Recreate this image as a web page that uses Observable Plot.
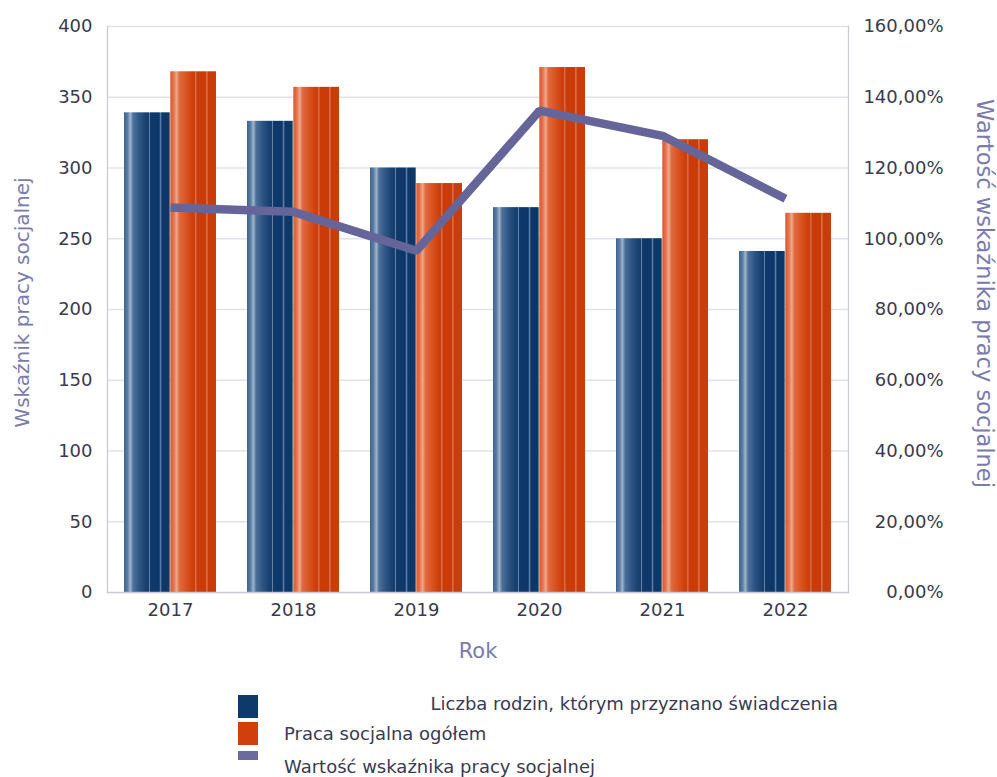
<!DOCTYPE html>
<html><head><meta charset="utf-8">
<script src="https://cdn.jsdelivr.net/npm/d3@7"></script>
<script src="https://cdn.jsdelivr.net/npm/@observablehq/plot@0.6"></script>
<style>
body{margin:0;background:#fff;font-family:"DejaVu Sans",sans-serif;}
#wrap{position:relative;width:997px;height:777px;overflow:hidden;}
.sw{position:absolute;width:20px;}
.lt{position:absolute;font-size:18px;line-height:20px;color:#3a3a52;white-space:nowrap;}
</style></head><body>
<div id="wrap"><div id="chart"></div>
<div class="sw" style="left:238px;top:695px;height:23px;background:#0d3a6b"></div>
<div class="lt" style="right:159px;top:694px;" id="l1"></div>
<div class="sw" style="left:238px;top:722px;height:23px;background:#d13f0c"></div>
<div class="lt" style="left:284px;top:724px;" id="l2"></div>
<div class="sw" style="left:238px;top:751px;height:9px;background:#6a6a9e"></div>
<div class="lt" style="left:284px;top:757px;" id="l3"></div>
</div>
<script>
const years = ["2017","2018","2019","2020","2021","2022"];
const families = [339, 333, 300, 272, 250, 241];
const socialWork = [368, 357, 289, 371, 320, 268];
const indicatorPct = [108.8, 107.6, 96.6, 136.2, 129.1, 111.3];
const leftTicks = [0, 50, 100, 150, 200, 250, 300, 350, 400];
const pctTicks = [0, 20, 40, 60, 80, 100, 120, 140, 160];
const seriesNames = ["Liczba rodzin, którym przyznano świadczenia", "Praca socjalna ogółem", "Wartość wskaźnika pracy socjalnej"];
const leftTitle = "Wskaźnik pracy socjalnej";
const rightTitle = "Wartość wskaźnika pracy socjalnej";
const xTitle = "Rok";

const W = 997, H = 680, mL = 107, mR = 149, mT = 26, mB = 88;
const pctToLeft = 400 / 160;
const rows = years.map((y, i) => ({year: y, fam: families[i], soc: socialWork[i], pct: indicatorPct[i] * pctToLeft}));
const step = (W - mL - mR) / years.length;
const half = step * 0.75 / 2;
const fmtPct = d => (d / pctToLeft).toFixed(2).replace(".", ",") + "%";

const chart = Plot.plot({
  width: W, height: H, marginLeft: mL, marginRight: mR, marginTop: mT, marginBottom: mB,
  style: {fontFamily: "DejaVu Sans, sans-serif", fontSize: "18px", color: "#3a3a4e", background: "#fff"},
  x: {domain: years, paddingInner: 0.25, paddingOuter: 0.125},
  y: {domain: [0, 400]},
  marks: [
    Plot.ruleY(leftTicks.slice(1), {stroke: "#e2e2ea", strokeWidth: 1.3}),
    Plot.barY(rows, {x: "year", y: "fam", fill: "url(#gBlue)", insetRight: half}),
    Plot.barY(rows, {x: "year", y: "soc", fill: "url(#gOrange)", insetLeft: half}),
    Plot.line(rows, {x: "year", y: "pct", stroke: "#65659a", strokeWidth: 8.5, strokeLinejoin: "miter", strokeLinecap: "butt"}),
    Plot.frame({anchor: "left", stroke: "#c9c9da", strokeWidth: 1.3}),
    Plot.frame({anchor: "right", stroke: "#c9c9da", strokeWidth: 1.3}),
    Plot.frame({anchor: "bottom", stroke: "#c9c9da", strokeWidth: 1.3}),
    Plot.axisY({anchor: "left", ticks: leftTicks, tickSize: 0, tickPadding: 15, label: null, fontSize: 18}),
    Plot.axisY({anchor: "right", ticks: pctTicks.map(p => p * pctToLeft), tickFormat: fmtPct, tickSize: 0, tickPadding: 95, textAnchor: "end", label: null, fontSize: 18}),
    Plot.axisX({tickSize: 0, tickPadding: 11, label: null, fontSize: 18}),
    Plot.text([leftTitle], {frameAnchor: "left", textAnchor: "middle", dx: -85, dy: -7, rotate: -90, fill: "#7b7bab", fontSize: 20}),
    Plot.text([rightTitle], {frameAnchor: "right", textAnchor: "middle", dx: 136, dy: -16, rotate: 90, fill: "#7b7bab", fontSize: 22.5}),
    Plot.text([xTitle], {frameAnchor: "bottom", dy: 65, fill: "#7b7bab", fontSize: 21})
  ]
});

const svg = d3.select(chart);
const defs = svg.insert("defs", ":first-child");
function grad(id, stops) {
  const g = defs.append("linearGradient").attr("id", id).attr("x1", "0").attr("x2", "1").attr("y1", "0").attr("y2", "0");
  stops.forEach(([o, c]) => g.append("stop").attr("offset", o).attr("stop-color", c));
}
grad("gBlue", [[0, "#3d628c"], [0.08, "#5b7fa6"], [0.14, "#9fb3c9"], [0.2, "#4b7099"], [0.35, "#2b5383"], [0.5, "#163f6f"], [0.54, "#16406f"], [0.56, "#6a88aa"], [0.58, "#0f3a6a"], [0.77, "#0d376a"], [0.8, "#5f7fa5"], [0.83, "#0d376a"], [1, "#0e3866"]]);
grad("gOrange", [[0, "#d8562c"], [0.08, "#e4774f"], [0.14, "#f0a88a"], [0.2, "#e06a42"], [0.35, "#d9531f"], [0.5, "#cc3e0c"], [0.54, "#cc3e0c"], [0.56, "#e58a66"], [0.58, "#c93b08"], [0.77, "#c93b08"], [0.8, "#e07a55"], [0.83, "#c93b08"], [1, "#cb3d0b"]]);

document.getElementById("chart").appendChild(chart);
document.getElementById("l1").textContent = seriesNames[0];
document.getElementById("l2").textContent = seriesNames[1];
document.getElementById("l3").textContent = seriesNames[2];
</script>
</body></html>
